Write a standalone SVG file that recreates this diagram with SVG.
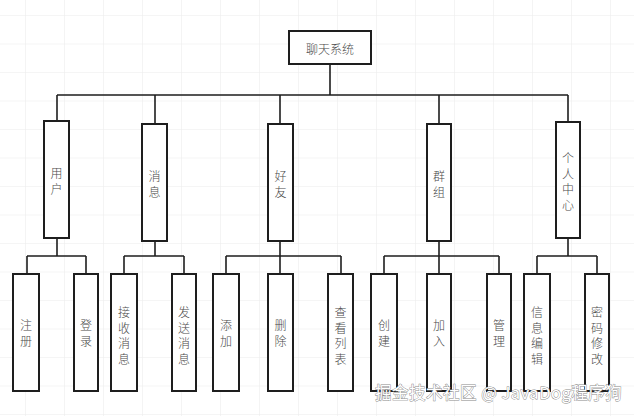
<svg xmlns="http://www.w3.org/2000/svg" width="634" height="416" viewBox="0 0 634 416">
<defs>
<pattern id="grid" width="39" height="28.5" patternUnits="userSpaceOnUse" x="25" y="15">
<path d="M0 0H39M0 0V28.5" fill="none" stroke="#ececec" stroke-width="1.2"/>
</pattern>
<style>
.box{fill:#fff;stroke:#1e1e1e;stroke-width:2}
.ln{fill:none;stroke:#1e1e1e;stroke-width:1.6}
.t{font-family:"Noto Sans CJK SC","Noto Sans",sans-serif;font-size:12px;font-weight:300;fill:#4a4a4a;text-anchor:middle;dominant-baseline:central}
.wm{font-family:"Noto Sans CJK SC","Liberation Sans",sans-serif;font-size:16.5px;letter-spacing:0.5px;fill:#fff;stroke:#8a8a8a;stroke-width:0.9;paint-order:stroke}
</style>
</defs>
<rect width="634" height="416" fill="#fff"/>
<rect width="634" height="416" fill="url(#grid)"/>
<g id="connectors">
<path class="ln" d="M330 64V95M57 95H568M57 95V121M155 95V124M280 95V124M439 95V124M568 95V122"/>
<path class="ln" d="M57 238V256M27 256H86M27 256V274M86 256V274"/>
<path class="ln" d="M155 241V256M124 256H184M124 256V274M184 256V274"/>
<path class="ln" d="M280 241V256M226 256H341M226 256V274M280 256V274M341 256V274"/>
<path class="ln" d="M439 241V256M384 256H499M384 256V274M439 256V274M499 256V274"/>
<path class="ln" d="M568 238V256M537 256H597M537 256V274M597 256V274"/>
</g>
<g id="root"><rect class="box" x="289" y="31" width="82" height="33"/><text class="t" x="330" y="48">聊天系统</text></g>
<g id="user"><rect class="box" x="44" y="121" width="25" height="117"/><text class="t" x="56.5"><tspan x="56.5" y="172">用</tspan><tspan x="56.5" y="187.5">户</tspan></text></g>
<g id="message"><rect class="box" x="142" y="124" width="25" height="117"/><text class="t"><tspan x="154.5" y="175">消</tspan><tspan x="154.5" y="190.5">息</tspan></text></g>
<g id="friend"><rect class="box" x="268" y="124" width="25" height="117"/><text class="t"><tspan x="280.5" y="175">好</tspan><tspan x="280.5" y="190.5">友</tspan></text></g>
<g id="group"><rect class="box" x="427" y="124" width="24" height="117"/><text class="t"><tspan x="439" y="175">群</tspan><tspan x="439" y="190.5">组</tspan></text></g>
<g id="profile"><rect class="box" x="556" y="122" width="24" height="116"/><text class="t"><tspan x="568" y="157">个</tspan><tspan x="568" y="172.5">人</tspan><tspan x="568" y="188">中</tspan><tspan x="568" y="203.5">心</tspan></text></g>
<g id="register"><rect class="box" x="13" y="274" width="26" height="117"/><text class="t"><tspan x="26" y="324">注</tspan><tspan x="26" y="340">册</tspan></text></g>
<g id="login"><rect class="box" x="74" y="274" width="24" height="117"/><text class="t"><tspan x="86" y="324">登</tspan><tspan x="86" y="340">录</tspan></text></g>
<g id="recv"><rect class="box" x="111" y="274" width="26" height="117"/><text class="t"><tspan x="124" y="311">接</tspan><tspan x="124" y="326.5">收</tspan><tspan x="124" y="342">消</tspan><tspan x="124" y="357.5">息</tspan></text></g>
<g id="send"><rect class="box" x="172" y="274" width="24" height="117"/><text class="t"><tspan x="184" y="311">发</tspan><tspan x="184" y="326.5">送</tspan><tspan x="184" y="342">消</tspan><tspan x="184" y="357.5">息</tspan></text></g>
<g id="add"><rect class="box" x="213" y="274" width="26" height="117"/><text class="t"><tspan x="226" y="324">添</tspan><tspan x="226" y="340">加</tspan></text></g>
<g id="delete"><rect class="box" x="268" y="274" width="25" height="117"/><text class="t"><tspan x="280.5" y="324">删</tspan><tspan x="280.5" y="340">除</tspan></text></g>
<g id="list"><rect class="box" x="328" y="274" width="25" height="117"/><text class="t"><tspan x="340.5" y="311">查</tspan><tspan x="340.5" y="326.5">看</tspan><tspan x="340.5" y="342">列</tspan><tspan x="340.5" y="357.5">表</tspan></text></g>
<g id="create"><rect class="box" x="371" y="274" width="26" height="117"/><text class="t"><tspan x="384" y="324">创</tspan><tspan x="384" y="340">建</tspan></text></g>
<g id="join"><rect class="box" x="427" y="274" width="24" height="117"/><text class="t"><tspan x="439" y="324">加</tspan><tspan x="439" y="340">入</tspan></text></g>
<g id="manage"><rect class="box" x="487" y="274" width="24" height="117"/><text class="t"><tspan x="499" y="324">管</tspan><tspan x="499" y="340">理</tspan></text></g>
<g id="edit"><rect class="box" x="524" y="274" width="26" height="117"/><text class="t"><tspan x="537" y="311">信</tspan><tspan x="537" y="326.5">息</tspan><tspan x="537" y="342">编</tspan><tspan x="537" y="357.5">辑</tspan></text></g>
<g id="password"><rect class="box" x="585" y="274" width="24" height="117"/><text class="t"><tspan x="597" y="311">密</tspan><tspan x="597" y="326.5">码</tspan><tspan x="597" y="342">修</tspan><tspan x="597" y="357.5">改</tspan></text></g>
<text class="wm" x="375" y="399">掘金技术社区 @ JavaDog程序狗</text>
</svg>
